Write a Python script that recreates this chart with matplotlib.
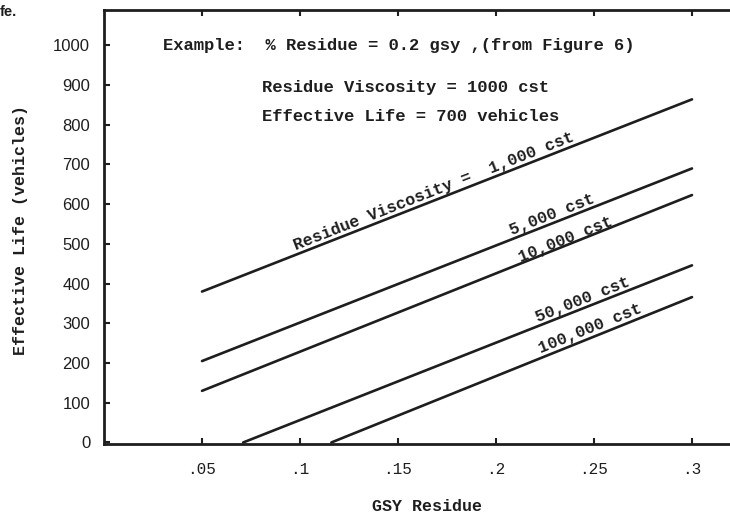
import numpy as np
from matplotlib import pyplot as plt

# GSY residue vs effective life, one straight line per residue viscosity
viscosity_labels = ["Residue Viscosity =  1,000 cst", "5,000 cst", "10,000 cst",
                    "50,000 cst", "100,000 cst"]
x_start = [0.05, 0.05, 0.05, 0.071, 0.116]
y_start = [380, 205, 130, 0, 0]
x_end = [0.30, 0.30, 0.30, 0.30, 0.30]
y_end = [864, 690, 623, 446, 366]

# where each label sits along its line (x in GSY units) and its baseline gap above it (points)
label_x = [0.170, 0.2303, 0.2367, 0.2457, 0.2497]
label_gap = [3.0, 3.0, 0.8, 3.0, 3.0]

x_ticks = [0.05, 0.1, 0.15, 0.2, 0.25, 0.3]
x_ticklabels = [".05", ".1", ".15", ".2", ".25", ".3"]
y_ticks = [0, 100, 200, 300, 400, 500, 600, 700, 800, 900, 1000]

example_lines = ["Example:  % Residue = 0.2 gsy ,(from Figure 6)",
                 "Residue Viscosity = 1000 cst",
                 "Effective Life = 700 vehicles"]

mono = "Liberation Mono"
ink = "#1e1e1e"

fig = plt.figure(figsize=(7.3, 5.18), dpi=100)
ax = fig.add_axes([0.1425, 0.1429, 0.8575, 0.8378])

ax.set_xlim(0, 0.3194)
ax.set_ylim(-3.8, 1089)

for x0, y0, x1, y1 in zip(x_start, y_start, x_end, y_end):
    ax.plot([x0, x1], [y0, y1], color=ink, linewidth=1.9, solid_capstyle="round")

# labels rotated to follow the lines
for i, text in enumerate(viscosity_labels):
    x0, y0, x1, y1 = x_start[i], y_start[i], x_end[i], y_end[i]
    p0 = ax.transData.transform((x0, y0))
    p1 = ax.transData.transform((x1, y1))
    ang = np.degrees(np.arctan2(p1[1] - p0[1], p1[0] - p0[0]))
    lx = label_x[i]
    ly = y0 + (y1 - y0) * (lx - x0) / (x1 - x0)
    d = label_gap[i]
    ax.annotate(text, (lx, ly), xytext=(-d * np.sin(np.radians(ang)), d * np.cos(np.radians(ang))),
                textcoords="offset points", rotation=ang, rotation_mode="anchor",
                ha="center", va="baseline", fontsize=12, family=mono, weight="bold", color=ink)

# example note in the upper left
ax.text(0.0301, 1000, example_lines[0], ha="left", va="center",
        fontsize=12.3, family=mono, weight="bold", color=ink)
ax.text(0.0806, 895, example_lines[1], ha="left", va="center",
        fontsize=12.3, family=mono, weight="bold", color=ink)
ax.text(0.0806, 820, example_lines[2], ha="left", va="center",
        fontsize=12.3, family=mono, weight="bold", color=ink)

ax.set_xticks(x_ticks)
ax.set_xticklabels(x_ticklabels, family=mono, fontsize=11.5, color=ink)
ax.set_yticks(y_ticks)
ax.set_yticklabels([str(v) for v in y_ticks], family="Liberation Sans", fontsize=12, color=ink)

ax.tick_params(axis="x", direction="in", length=4, width=1.5, pad=13, top=True, color=ink)
ax.tick_params(axis="y", direction="in", length=4, width=1.5, pad=10, color=ink)

for side in ["left", "bottom", "top"]:
    ax.spines[side].set_linewidth(2.0)
    ax.spines[side].set_color(ink)
ax.spines["right"].set_visible(False)

ax.set_xlabel("GSY Residue", family=mono, fontsize=12, weight="bold", color=ink)
ax.xaxis.set_label_coords(0.516, -0.127)
ax.set_ylabel("Effective Life (vehicles)", family=mono, fontsize=12, weight="bold", color=ink)
ax.yaxis.set_label_coords(-0.121, 0.494)

# leftover of the cut-off figure caption
fig.text(0.0, 0.977, "fe.", family="Liberation Sans", fontsize=10.5, weight="bold",
         color=ink, ha="left", va="center")

fig.savefig("out.png", dpi=100)
plt.close(fig)
